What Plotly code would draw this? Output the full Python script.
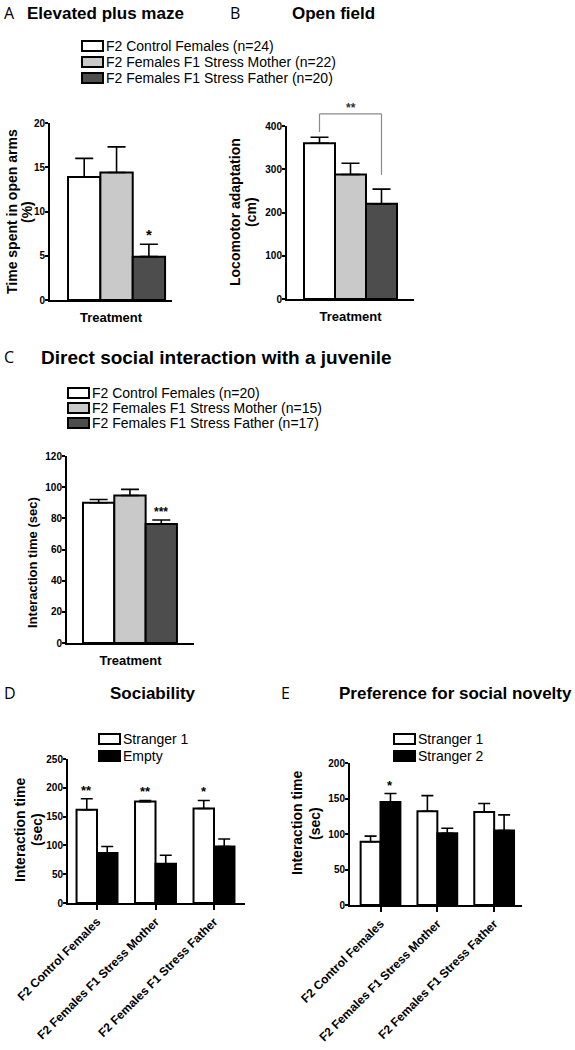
import plotly.graph_objects as go

W, H = 575, 1050
FONT = "Liberation Sans, Arial, sans-serif"

# ---------------- data ----------------
groups = ["F2 Control Females", "F2 Females F1 Stress Mother", "F2 Females F1 Stress Father"]
group_colors = ["#ffffff", "#c9c9c9", "#4d4d4d"]

# A: Elevated plus maze (time in open arms, %)
a_n = [24, 22, 20]
a_mean = [13.9, 14.4, 4.9]
a_sem = [2.1, 2.9, 1.4]
a_stars = ["", "", "*"]

# B: Open field (locomotor adaptation, cm)
b_mean = [360, 288, 220]
b_sem = [14, 26, 34]
b_bracket_top = 428
b_bracket_ends = [386, 287]
b_bracket_label = "**"

# C: Direct social interaction with a juvenile (sec)
c_n = [20, 15, 17]
c_mean = [90.0, 94.7, 76.3]
c_sem = [2.1, 3.9, 2.6]
c_stars = ["", "", "***"]

pair_colors = ["#ffffff", "#000000"]

# D: Sociability
d_series = ["Stranger 1", "Empty"]
d_mean = [[162, 176, 164], [87, 68, 98]]
d_sem = [[19, 2, 14], [11, 15, 13]]
d_stars = [["**", "**", "*"], ["", "", ""]]

# E: Preference for social novelty
e_series = ["Stranger 1", "Stranger 2"]
e_mean = [[89, 132, 131], [145, 101, 105]]
e_sem = [[8, 22, 12], [12, 7, 22]]
e_stars = [["", "", ""], ["*", "", ""]]

BARGAP = 0.3
B_RANGE = [0, 400]


def xdom(a, b):
    return [a / W, b / W]


def ydom(bottom, top):
    return [1 - bottom / H, 1 - top / H]


def offset(i, n):
    w = 1 - BARGAP
    return -w / 2 + (i + 0.5) * w / n


fig = go.Figure()


def bar(x, y, err, color, name, xa, ya, capw):
    return go.Bar(
        x=x, y=y, name=name,
        marker=dict(color=color, line=dict(color="black", width=2)),
        error_y=dict(type="data", symmetric=False, array=err, arrayminus=[0] * len(err),
                     color="black", thickness=1.6, width=capw),
        xaxis=xa, yaxis=ya, showlegend=False,
    )


a_names = [f"{g} (n={n})" for g, n in zip(groups, a_n)]
c_names = [f"{g} (n={n})" for g, n in zip(groups, c_n)]

for i in range(3):
    fig.add_trace(bar(["Treatment"], [a_mean[i]], [a_sem[i]], group_colors[i], a_names[i], "x", "y", 9))
for i in range(3):
    fig.add_trace(bar(["Treatment"], [b_mean[i]], [b_sem[i]], group_colors[i], groups[i], "x2", "y2", 9))
for i in range(3):
    fig.add_trace(bar(["Treatment"], [c_mean[i]], [c_sem[i]], group_colors[i], c_names[i], "x3", "y3", 9))
for s, name in enumerate(d_series):
    fig.add_trace(bar(groups, d_mean[s], d_sem[s], pair_colors[s], name, "x4", "y4", 6))
for s, name in enumerate(e_series):
    fig.add_trace(bar(groups, e_mean[s], e_sem[s], pair_colors[s], name, "x5", "y5", 6))

tickfont = dict(family=FONT, size=10, color="black", weight="bold")


def yax(dom, rng, dtick, anchor):
    return dict(domain=dom, range=rng, dtick=dtick, anchor=anchor, showline=True,
                linecolor="black", linewidth=2, ticks="outside", ticklen=3, tickwidth=1.5,
                tickcolor="black", tickfont=tickfont, showgrid=False, zeroline=False,
                ticklabelstandoff=-2, fixedrange=True, automargin=False)


def xax(dom, rng, anchor, title=None, cat_ticks=False):
    d = dict(domain=dom, range=rng, anchor=anchor, type="category", showline=True,
             linecolor="black", linewidth=2, showgrid=False, zeroline=False, fixedrange=True,
             automargin=False)
    if cat_ticks:
        d.update(ticks="outside", ticklen=5, tickwidth=1.5, tickcolor="black", tickangle=-45,
                 tickfont=dict(family=FONT, size=12, color="black", weight="bold"))
    else:
        d.update(ticks="", showticklabels=False)
    if title:
        d.update(title=dict(text=title, standoff=12,
                            font=dict(family=FONT, size=13, color="black", weight="bold")))
    return d


fig.update_layout(
    width=W, height=H, margin=dict(l=0, r=0, t=0, b=0, autoexpand=False),
    paper_bgcolor="white", plot_bgcolor="rgba(0,0,0,0)",
    barmode="group", bargap=BARGAP, bargroupgap=0,
    font=dict(family=FONT, color="black"),
    showlegend=False,
    xaxis=xax(xdom(50, 172), [-0.48, 0.40], "y", "Treatment"),
    yaxis=yax(ydom(300, 123), [0, 20], 5, "x"),
    xaxis2=xax(xdom(287, 414), [-0.478, 0.478], "y2", "Treatment"),
    yaxis2=yax(ydom(299, 126), B_RANGE, 100, "x2"),
    xaxis3=xax(xdom(67, 194), [-0.469, 0.477], "y3", "Treatment"),
    yaxis3=yax(ydom(643, 456), [0, 120], 20, "x3"),
    xaxis4=xax(xdom(68, 245), [-0.496, 2.53], "y4", cat_ticks=True),
    yaxis4=yax(ydom(903, 759), [0, 250], 50, "x4"),
    xaxis5=xax(xdom(350, 522), [-0.537, 2.49], "y5", cat_ticks=True),
    yaxis5=yax(ydom(905, 763), [0, 200], 50, "x5"),
)

ann = []
shapes = []


def paper_text(text, x, y, size, bold=False, xanchor="left", family=FONT, angle=0):
    ann.append(dict(text=f"<b>{text}</b>" if bold else text, x=x / W, y=1 - y / H,
                    xref="paper", yref="paper", xanchor=xanchor, yanchor="middle",
                    showarrow=False, textangle=angle,
                    font=dict(family=family, size=size, color="black")))


LETTER_FONT = "Open Sans, Liberation Sans, sans-serif"
# panel letters and titles
paper_text("A", 2, 13, 16, family=LETTER_FONT)
paper_text("Elevated plus maze", 25, 13, 17, bold=True)
paper_text("B", 228, 13, 16, family=LETTER_FONT)
paper_text("Open field", 290, 13, 17, bold=True)
paper_text("C", 2, 357, 16, family=LETTER_FONT)
paper_text("Direct social interaction with a juvenile", 39, 357, 19, bold=True)
paper_text("D", 2, 693, 16, family=LETTER_FONT)
paper_text("Sociability", 153, 693, 17, bold=True, xanchor="center")
paper_text("E", 279, 693, 16, family=LETTER_FONT)
paper_text("Preference for social novelty", 574, 693, 17, bold=True, xanchor="right")

# y-axis titles (one annotation per line)
for lines, xs, y, size in [
    (["Time spent in open arms", "(%)"], [12, 27], 212, 14),
    (["Locomotor adaptation", "(cm)"], [235, 251], 212, 14),
    (["Interaction time (sec)"], [32], 563, 13),
    (["Interaction time", "(sec)"], [20, 37], 830, 14),
    (["Interaction time", "(sec)"], [297, 315], 823, 14),
]:
    for line, x in zip(lines, xs):
        paper_text(line, x, y, size, bold=True, xanchor="center", angle=-90)


# legends (box + label), built from the series names and colours
def legend_block(names, colors, box_x, row_ys):
    for name, color, ry in zip(names, colors, row_ys):
        shapes.append(dict(type="rect", xref="paper", yref="paper",
                           x0=box_x / W, x1=(box_x + 21) / W,
                           y0=1 - (ry + 5) / H, y1=1 - (ry - 5) / H,
                           fillcolor=color, line=dict(color="black", width=2)))
        ann.append(dict(text=name, x=(box_x + 22) / W, y=1 - ry / H, xref="paper", yref="paper",
                        xanchor="left", yanchor="middle", showarrow=False,
                        font=dict(family=FONT, size=14, color="black")))


legend_block(a_names, group_colors, 82, [46, 62, 78])
legend_block(c_names, group_colors, 68, [393, 408, 423])
legend_block(d_series, pair_colors, 99, [739, 756])
legend_block(e_series, pair_colors, 394, [739, 756])


def star_ann(xref, yref, x, y, text, size=14):
    ann.append(dict(text=f"<b>{text}</b>", x=x, y=y, xref=xref, yref=yref, xanchor="center",
                    yanchor="bottom", showarrow=False, yshift=-1,
                    font=dict(family=FONT, size=size, color="black")))


for i, s in enumerate(a_stars):
    if s:
        star_ann("x", "y", offset(i, 3), a_mean[i] + a_sem[i], s, 15)
for i, s in enumerate(c_stars):
    if s:
        star_ann("x3", "y3", offset(i, 3), c_mean[i] + c_sem[i], s, 12)
for k in range(2):
    for g in range(3):
        if d_stars[k][g]:
            star_ann("x4", "y4", g + offset(k, 2), d_mean[k][g] + d_sem[k][g], d_stars[k][g], 13)
        if e_stars[k][g]:
            star_ann("x5", "y5", g + offset(k, 2), e_mean[k][g] + e_sem[k][g], e_stars[k][g], 13)


# B significance bracket between group 1 and group 3 (y in fractions of the y2 domain)
def bfrac(v):
    return (v - B_RANGE[0]) / (B_RANGE[1] - B_RANGE[0])


xl, xr = offset(0, 3), offset(2, 3)
br_line = dict(color="#8a8a8a", width=1.2)
shapes += [
    dict(type="line", xref="x2", yref="y2 domain", x0=xl, x1=xl,
         y0=bfrac(b_bracket_ends[0]), y1=bfrac(b_bracket_top), line=br_line),
    dict(type="line", xref="x2", yref="y2 domain", x0=xl, x1=xr,
         y0=bfrac(b_bracket_top), y1=bfrac(b_bracket_top), line=br_line),
    dict(type="line", xref="x2", yref="y2 domain", x0=xr, x1=xr,
         y0=bfrac(b_bracket_top), y1=bfrac(b_bracket_ends[1]), line=br_line),
]
ann.append(dict(text=f"<b>{b_bracket_label}</b>", x=(xl + xr) / 2, y=bfrac(b_bracket_top),
                xref="x2", yref="y2 domain", xanchor="center", yanchor="bottom",
                showarrow=False, yshift=-3,
                font=dict(family=FONT, size=12, color="#333333")))

fig.update_layout(annotations=ann, shapes=shapes)

# remove the browser's default 8px page margin so the 575x1050 figure fills the window
fig.write_html("out.html", config={"displayModeBar": False},
               post_script="document.body.style.margin='0';")
